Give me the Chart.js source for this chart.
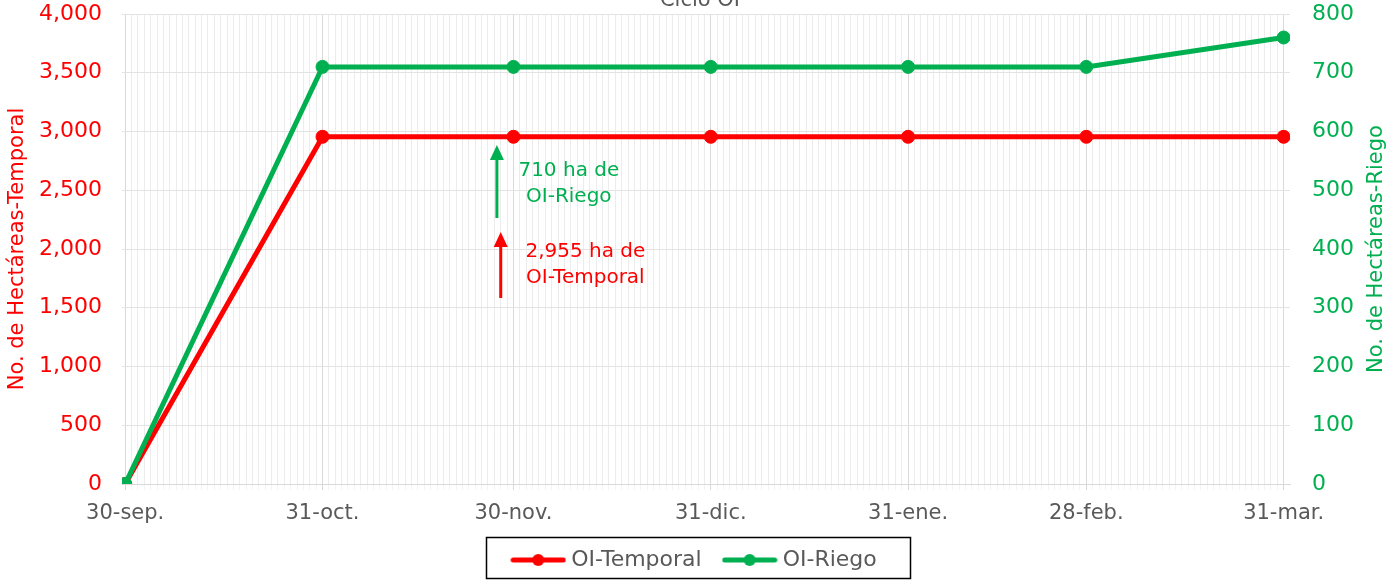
<!DOCTYPE html>
<html>
<head>
<meta charset="utf-8">
<script src="https://cdn.jsdelivr.net/npm/chart.js@4/dist/chart.umd.min.js"></script>
<style>
  html, body { margin: 0; padding: 0; background: #fff; }
  #wrap { width: 1393px; height: 581px; }
</style>
</head>
<body>
<div id="wrap"><canvas id="grafico" width="1393" height="581"></canvas></div>
<script>
// Ciclo OI - hectáreas temporal vs riego
const fechas = ['30-sep.', '31-oct.', '30-nov.', '31-dic.', '31-ene.', '28-feb.', '31-mar.'];
const dias = [0, 31, 61, 92, 123, 151, 182];   // días desde 30-sep
const temporal = [0, 2955, 2955, 2955, 2955, 2955, 2955];
const riego = [0, 710, 710, 710, 710, 710, 760];

const ROJO = '#FF0000';
const VERDE = '#00B050';
const GRIS = '#595959';
const FUENTE = "'DejaVu Sans', sans-serif";

// anotaciones (en unidades de los ejes)
const notas = [
    { color: VERDE, flecha: [58.4, 2264, 2885], texto: ['710 ha de', 'OI-Riego'], x: 69.7, y: [2664, 2443] },
    { color: ROJO, flecha: [59.0, 1583, 2145], texto: ['2,955 ha de', 'OI-Temporal'], x: 72.3, y: [1974, 1753] }
];

function iconoLeyenda(color) {
    const c = document.createElement('canvas');
    c.width = 56; c.height = 14;
    const g = c.getContext('2d');
    g.strokeStyle = color; g.lineWidth = 5; g.lineCap = 'round';
    g.beginPath(); g.moveTo(3, 7); g.lineTo(53, 7); g.stroke();
    g.fillStyle = color;
    g.beginPath(); g.arc(28, 7, 6, 0, Math.PI * 2); g.fill();
    return c;
}

function textoVertical(ctx, txt, x, y, color) {
    ctx.save();
    ctx.translate(x, y);
    ctx.rotate(-Math.PI / 2);
    ctx.fillStyle = color;
    ctx.font = '21px ' + FUENTE;
    ctx.textAlign = 'center'; ctx.textBaseline = 'middle';
    ctx.fillText(txt, 0, 0);
    ctx.restore();
}

// sin relleno extra arriba/abajo por las etiquetas
function sinRelleno(ax) {
    ax.paddingTop = 0;
    ax.paddingBottom = 0;
}

const extras = {
    id: 'extras',
    afterDatasetsDraw(chart) {
        const ctx = chart.ctx;
        const x = chart.scales.x, y = chart.scales.y;
        const area = chart.chartArea;
        ctx.save();
        notas.forEach(n => {
            const px = x.getPixelForValue(n.flecha[0]);
            const y0 = y.getPixelForValue(n.flecha[1]);
            const y1 = y.getPixelForValue(n.flecha[2]);
            ctx.strokeStyle = n.color; ctx.fillStyle = n.color; ctx.lineWidth = 3;
            ctx.beginPath(); ctx.moveTo(px, y0); ctx.lineTo(px, y1 + 12); ctx.stroke();
            ctx.beginPath(); ctx.moveTo(px, y1); ctx.lineTo(px - 7, y1 + 15); ctx.lineTo(px + 7, y1 + 15); ctx.closePath(); ctx.fill();
            ctx.font = '20px ' + FUENTE;
            ctx.textAlign = 'center'; ctx.textBaseline = 'middle';
            n.texto.forEach((t, i) => ctx.fillText(t, x.getPixelForValue(n.x), y.getPixelForValue(n.y[i])));
        });
        // título (cortado arriba como en el original)
        ctx.fillStyle = GRIS; ctx.font = '21px ' + FUENTE;
        ctx.textAlign = 'center'; ctx.textBaseline = 'middle';
        ctx.fillText('Ciclo OI', 700, 1);
        ctx.restore();
        // títulos de ejes
        const cy = (area.top + area.bottom) / 2;
        textoVertical(ctx, 'No. de Hectáreas-Temporal', 18, cy, ROJO);
        textoVertical(ctx, 'No. de Hectáreas-Riego', 1377, cy, VERDE);
    },
    afterDraw(chart) {
        const ctx = chart.ctx;
        ctx.save();
        ctx.strokeStyle = '#000'; ctx.lineWidth = 1.5;
        ctx.strokeRect(486.5, 537.5, 424, 41);
        ctx.restore();
    }
};

const etiquetaDia = {};
dias.forEach((d, i) => etiquetaDia[d] = fechas[i]);

new Chart(document.getElementById('grafico'), {
    type: 'line',
    data: {
        datasets: [{
            label: 'OI-Temporal',
            data: dias.map((d, i) => ({ x: d, y: temporal[i] })),
            borderColor: ROJO, backgroundColor: ROJO,
            borderWidth: 5, pointRadius: 6.5, pointHoverRadius: 6.5, pointBorderWidth: 1,
            yAxisID: 'y', order: 1
        }, {
            label: 'OI-Riego',
            data: dias.map((d, i) => ({ x: d, y: riego[i] })),
            borderColor: VERDE, backgroundColor: VERDE,
            borderWidth: 5, pointRadius: 6.5, pointHoverRadius: 6.5, pointBorderWidth: 1,
            yAxisID: 'y1', order: 0
        }]
    },
    options: {
        responsive: false,
        animation: false,
        layout: { padding: { top: 14, left: 0, right: 0, bottom: 0 } },
        plugins: {
            tooltip: { enabled: false },
            legend: {
                position: 'bottom',
                labels: {
                    color: GRIS,
                    font: { family: FUENTE, size: 22 },
                    usePointStyle: true,
                    pointStyleWidth: 44,
                    padding: 12,
                    generateLabels: (chart) => chart.data.datasets.map((ds, i) => ({
                        text: i === 0 ? ds.label + '  ' : ds.label,
                        pointStyle: iconoLeyenda(ds.borderColor),
                        fillStyle: ds.borderColor,
                        strokeStyle: ds.borderColor,
                        fontColor: GRIS,
                        lineWidth: 0,
                        datasetIndex: i
                    }))
                }
            }
        },
        scales: {
            x: {
                type: 'linear',
                min: -0.5, max: 183,
                afterFit: (ax) => { ax.height = 53; },
                afterBuildTicks: (ax) => {
                    const t = [];
                    for (let d = 0; d <= 182; d++) t.push({ value: d });
                    ax.ticks = t;
                },
                ticks: {
                    autoSkip: false, maxRotation: 0, padding: 11,
                    color: GRIS, font: { family: FUENTE, size: 21 },
                    callback: (v) => etiquetaDia[v] || ''
                },
                grid: {
                    color: (c) => etiquetaDia[c.tick.value] !== undefined ? '#d9d9d9' : '#ececec',
                    tickColor: (c) => etiquetaDia[c.tick.value] !== undefined ? '#d9d9d9' : '#f4f4f4',
                    tickLength: 6, lineWidth: 1
                },
                border: { color: '#d9d9d9' }
            },
            y: {
                position: 'left',
                min: 0, max: 4000,
                afterFit: (ax) => { ax.width = 122; sinRelleno(ax); },
                ticks: {
                    stepSize: 500, color: ROJO, padding: 20,
                    font: { family: FUENTE, size: 22 },
                    callback: (v) => v.toLocaleString('en-US')
                },
                grid: { color: '#e3e3e3', drawTicks: false },
                border: { display: false }
            },
            y1: {
                position: 'right',
                min: 0, max: 800,
                afterFit: (ax) => { ax.width = 103; sinRelleno(ax); },
                ticks: {
                    stepSize: 100, color: VERDE, padding: 22,
                    font: { family: FUENTE, size: 22 }
                },
                grid: { drawOnChartArea: false, drawTicks: false },
                border: { display: false }
            }
        }
    },
    plugins: [extras]
});
</script>
</body>
</html>
